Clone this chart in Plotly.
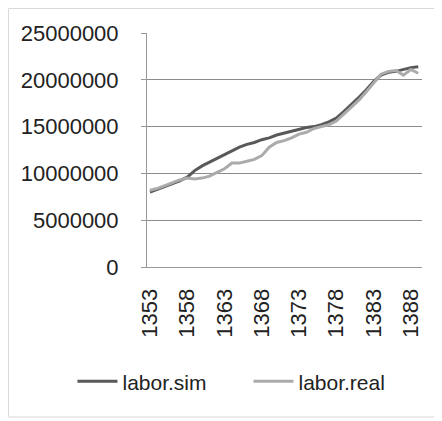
import plotly.graph_objects as go

years = list(range(1353, 1390))
labor_sim = [8.0, 8.3, 8.6, 8.9, 9.2, 9.6, 10.3, 10.8, 11.2, 11.6, 12.0, 12.4,
             12.8, 13.1, 13.3, 13.6, 13.8, 14.1, 14.3, 14.5, 14.7, 14.9, 15.0,
             15.2, 15.5, 15.9, 16.6, 17.3, 18.1, 18.9, 19.8, 20.5, 20.8, 20.9,
             21.1, 21.3, 21.4]
labor_real = [8.2, 8.4, 8.7, 9.0, 9.3, 9.5, 9.4, 9.5, 9.7, 10.1, 10.5, 11.1,
              11.1, 11.3, 11.5, 11.9, 12.8, 13.3, 13.5, 13.8, 14.2, 14.4, 14.8,
              15.0, 15.2, 15.6, 16.3, 17.0, 17.8, 18.7, 19.6, 20.6, 20.9, 21.0,
              20.5, 21.1, 20.7]
labor_sim = [v * 1e6 for v in labor_sim]
labor_real = [v * 1e6 for v in labor_real]
x_ticks = [1353, 1358, 1363, 1368, 1373, 1378, 1383, 1388]
y_ticks = [0, 5000000, 10000000, 15000000, 20000000, 25000000]

FONT = "Liberation Sans"
TXT = "#222222"

fig = go.Figure()
fig.add_trace(go.Scatter(x=years, y=labor_sim, mode="lines", name="labor.sim",
                         legend="legend",
                         line=dict(color="#595959", width=3)))
fig.add_trace(go.Scatter(x=years, y=labor_real, mode="lines", name="labor.real",
                         legend="legend2",
                         line=dict(color="#ababab", width=3)))

leg_common = dict(orientation="h", xanchor="left", yanchor="middle", y=-0.49,
                  font=dict(family=FONT, size=21, color=TXT),
                  itemwidth=40, bgcolor="rgba(0,0,0,0)")

fig.update_layout(
    width=434, height=413,
    margin=dict(l=139, r=20, t=25, b=154, autoexpand=False),
    paper_bgcolor="white", plot_bgcolor="white",
    font=dict(family=FONT, size=21, color=TXT),
    showlegend=True,
    legend=dict(x=-0.271, **leg_common),
    legend2=dict(x=0.369, **leg_common),
    xaxis=dict(range=[1352.6, 1389.5], tickmode="array", tickvals=x_ticks,
               ticktext=[str(t) for t in x_ticks], tickangle=-90,
               showgrid=False, showline=True, linecolor="#9a9a9a", linewidth=1,
               ticks="", zeroline=False, ticklabelstandoff=12, automargin=False,
               tickfont=dict(family=FONT, size=22, color=TXT)),
    yaxis=dict(range=[0, 25000000], tickmode="array", tickvals=y_ticks,
               ticktext=[str(t) for t in y_ticks],
               showgrid=True, gridcolor="#8c8c8c", gridwidth=1,
               showline=True, linecolor="#9a9a9a", linewidth=1,
               ticks="outside", ticklen=5, tickcolor="#9a9a9a",
               zeroline=False, ticklabelstandoff=18, automargin=False,
               tickfont=dict(family=FONT, size=22, color=TXT)),
)

fig.add_shape(type="rect", xref="paper", yref="paper",
              x0=(0.5 - 139) / 275, x1=(433 - 139) / 275,
              y0=(259 - 409) / 234, y1=(259 - 0.5) / 234,
              line=dict(color="#d9d9d9", width=1), layer="below")

fig.write_html("out.html")
